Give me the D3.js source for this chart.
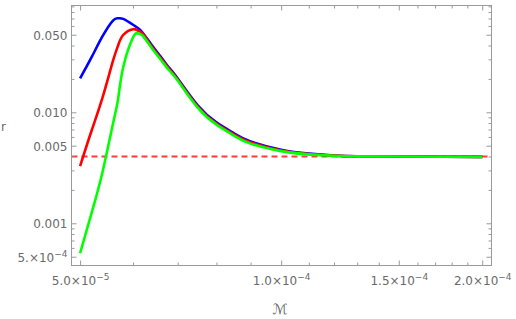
<!DOCTYPE html>
<html>
<head>
<meta charset="utf-8">
<script src="https://cdn.jsdelivr.net/npm/d3@7"></script>
<style>
  body { margin: 0; background: #fff; }
  svg { display: block; font-family: "DejaVu Sans", sans-serif; }
</style>
</head>
<body>
<svg></svg>
<script>
// x values (M) shared by all three curves
const mValues = [5.0e-5, 5.2e-5, 5.4e-5, 5.6e-5, 5.7e-5, 5.8e-5, 6.0e-5, 6.1e-5, 6.2e-5, 6.4e-5, 6.6e-5, 6.8e-5,
                 7.0e-5, 7.5e-5, 8.0e-5, 8.5e-5, 9.0e-5, 1.0e-4, 1.1e-4, 1.2e-4, 1.3e-4, 1.5e-4, 1.75e-4, 2.0e-4];

// r values
const rBlue  = [0.0202, 0.0312, 0.0482, 0.0671, 0.0703, 0.0694, 0.0615, 0.0575, 0.0524, 0.0404, 0.0318, 0.0251,
                0.0202, 0.01156, 0.00813, 0.00647, 0.00546, 0.00459, 0.00424, 0.00408, 0.00402, 0.00400, 0.00398, 0.00397];
const rRed   = [0.00328, 0.00679, 0.01346, 0.0290, 0.0400, 0.0497, 0.0561, 0.0546, 0.0513, 0.0392, 0.0308, 0.02455,
                0.01974, 0.01128, 0.00793, 0.00631, 0.00534, 0.00453, 0.00421, 0.00407, 0.00402, 0.00400, 0.00398, 0.00397];
const rGreen = [0.000537, 0.001228, 0.00287, 0.0079, 0.0132, 0.0253, 0.0472, 0.0514, 0.0492, 0.0380, 0.0299, 0.0238,
                0.0193, 0.0110, 0.00774, 0.00616, 0.00522, 0.00447, 0.00418, 0.00406, 0.00401, 0.00400, 0.00398, 0.00397];

// horizontal reference level
const rLimit = 0.0040;

// ticks
const xMajor = [5.0e-5, 1.0e-4, 1.5e-4, 2.0e-4];
const xMajorLabels = [["5.0×10", "−5"], ["1.0×10", "−4"], ["1.5×10", "−4"], ["2.0×10", "−4"]];
const xMinor = [6e-5, 7e-5, 8e-5, 9e-5, 1.1e-4, 1.2e-4, 1.3e-4, 1.4e-4, 1.6e-4, 1.7e-4, 1.8e-4, 1.9e-4];
const yMajor = [5e-4, 0.001, 0.005, 0.01, 0.05];
const yMajorLabels = [["5.×10", "−4"], ["0.001", ""], ["0.005", ""], ["0.010", ""], ["0.050", ""]];
const yMinor = [6e-4, 7e-4, 8e-4, 9e-4, 0.002, 0.003, 0.004, 0.006, 0.007, 0.008, 0.009,
                0.02, 0.03, 0.04, 0.06, 0.07, 0.08, 0.09];

// plot range
const xDomain = [4.854e-5, 2.065e-4];
const yDomain = [4.166e-4, 0.09167];

const margin = { top: 5.5, right: 24.5, bottom: 53.5, left: 71.5 };
const W = 516, H = 319;
const width = W - margin.left - margin.right;
const height = H - margin.top - margin.bottom;

const svg = d3.select("svg").attr("width", W).attr("height", H);
const g = svg.append("g").attr("transform", `translate(${margin.left},${margin.top})`);

const x = d3.scaleLog().domain(xDomain).range([0, width]);
const y = d3.scaleLog().domain(yDomain).range([height, 0]);

const frameColor = "#9a9a9a";
const labelColor = "#6a6a6a";

svg.append("defs").append("clipPath").attr("id", "clip")
  .append("rect").attr("width", width).attr("height", height);

// curves
const line = d3.line()
  .x(d => x(d[0]))
  .y(d => y(d[1]))
  .curve(d3.curveNatural);

const plot = g.append("g").attr("clip-path", "url(#clip)");

plot.append("line")
  .attr("x1", 0).attr("x2", width)
  .attr("y1", y(rLimit)).attr("y2", y(rLimit))
  .attr("stroke", "#ff3a3a").attr("stroke-width", 2)
  .attr("stroke-dasharray", "6,4");

const series = [
  { values: rBlue, color: "#0000ff" },
  { values: rRed, color: "#ff0000" },
  { values: rGreen, color: "#00ff00" }
];

series.forEach(s => {
  plot.append("path")
    .datum(mValues.map((m, i) => [m, s.values[i]]))
    .attr("fill", "none")
    .attr("stroke", s.color)
    .attr("stroke-width", 2.6)
    .attr("stroke-linejoin", "round")
    .attr("d", line);
});

// frame ticks (pointing inward)
function styleAxis(sel) {
  sel.select(".domain").remove();
  sel.selectAll(".tick line").attr("stroke", frameColor);
}

g.append("g").attr("transform", `translate(0,${height})`)
  .call(d3.axisBottom(x).tickValues(xMinor).tickSize(-3).tickFormat(""))
  .call(styleAxis);
g.append("g").call(d3.axisTop(x).tickValues(xMinor).tickSize(-3).tickFormat("")).call(styleAxis);
g.append("g").call(d3.axisTop(x).tickValues(xMajor).tickSize(-5).tickFormat("")).call(styleAxis);
g.append("g").call(d3.axisLeft(y).tickValues(yMinor).tickSize(-3).tickFormat("")).call(styleAxis);
g.append("g").attr("transform", `translate(${width},0)`)
  .call(d3.axisRight(y).tickValues(yMinor).tickSize(-3).tickFormat("")).call(styleAxis);
g.append("g").attr("transform", `translate(${width},0)`)
  .call(d3.axisRight(y).tickValues(yMajor).tickSize(-5).tickFormat("")).call(styleAxis);

const xAxis = g.append("g").attr("transform", `translate(0,${height})`)
  .call(d3.axisBottom(x).tickValues(xMajor).tickSize(-5).tickFormat(""))
  .call(styleAxis);
xAxis.selectAll(".tick text").each(function(d, i) {
  const t = d3.select(this)
    .attr("y", 19.5).attr("dy", null)
    .attr("fill", labelColor).attr("font-size", 12)
    .attr("font-family", "DejaVu Sans, sans-serif");
  t.append("tspan").text(xMajorLabels[i][0]);
  t.append("tspan").attr("font-size", 9).attr("dy", -5).text(xMajorLabels[i][1]);
});

const yAxis = g.append("g")
  .call(d3.axisLeft(y).tickValues(yMajor).tickSize(-5).tickPadding(4).tickFormat(""))
  .call(styleAxis);
yAxis.selectAll(".tick text").each(function(d, i) {
  const t = d3.select(this)
    .attr("dy", null).attr("y", 4.3)
    .attr("fill", labelColor).attr("font-size", 12)
    .attr("font-family", "DejaVu Sans, sans-serif");
  t.append("tspan").text(yMajorLabels[i][0]);
  if (yMajorLabels[i][1]) {
    t.append("tspan").attr("font-size", 9).attr("dy", -5).text(yMajorLabels[i][1]);
  }
});

// frame
g.append("rect")
  .attr("width", width).attr("height", height)
  .attr("fill", "none").attr("stroke", frameColor).attr("stroke-width", 1);

// axis titles
svg.append("text")
  .attr("x", 1).attr("y", 131)
  .attr("fill", labelColor).attr("font-size", 12)
  .text("r");

svg.append("text")
  .attr("x", margin.left + x(1.0e-4) - 1).attr("y", 314)
  .attr("text-anchor", "middle")
  .attr("fill", labelColor).attr("font-size", 14).attr("font-style", "italic")
  .text("ℳ");
</script>
</body>
</html>
